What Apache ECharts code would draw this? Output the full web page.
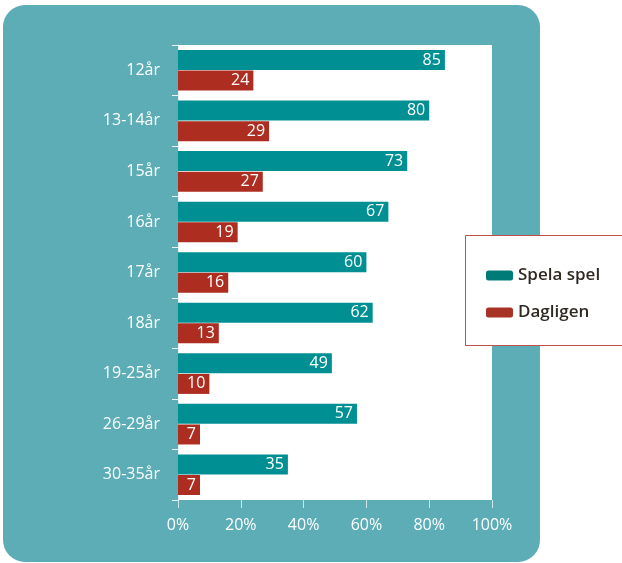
<!DOCTYPE html>
<html><head><meta charset="utf-8">
<script src="https://cdn.jsdelivr.net/npm/echarts@6/dist/echarts.min.js"></script>
<style>html,body{margin:0;padding:0;background:#fff}#c{width:622px;height:563px}</style>
</head><body><div id="c"></div>
<script>
const categories = ['12år','13-14år','15år','16år','17år','18år','19-25år','26-29år','30-35år'];
const spelaSpel = [85,80,73,67,60,62,49,57,35];
const dagligen = [24,29,27,19,16,13,10,7,7];
const seriesNames = ['Spela spel','Dagligen'];
const xTicks = [0,20,40,60,80,100];

const FONT = '"Open Sans", "Noto Sans", sans-serif';
const chart = echarts.init(document.getElementById('c'), null, {renderer:'canvas'});
chart.setOption({
  animation:false,
  backgroundColor:'#ffffff',
  graphic:[
    {type:'rect', z:-10, shape:{x:3,y:5,width:537,height:557,r:22}, style:{fill:'#5CADB5'}},
    {type:'rect', z:3, shape:{x:465.5,y:235.5,width:170,height:110}, style:{fill:'#ffffff',stroke:'#C0504D',lineWidth:1}}
  ],
  grid:{left:178,right:130,top:45,bottom:63,show:true,backgroundColor:'#ffffff',borderWidth:0,containLabel:false},
  legend:{
    z:5,
    orient:'vertical', left:481, top:262, itemWidth:27, itemHeight:10, itemGap:20, itemStyle:{borderWidth:0},
    textStyle:{fontFamily:FONT,fontSize:17,fontWeight:600,color:'#2e2a22'},
    data:[{name:seriesNames[0],itemStyle:{color:'#007B78'}},{name:seriesNames[1],itemStyle:{color:'#A93226'}}]
  },
  xAxis:{
    type:'value', min:0, max:100, interval:20,
    axisLine:{show:false},
    axisTick:{show:true,length:8,lineStyle:{color:'#cfe6e8'}},
    splitLine:{show:false},
    axisLabel:{formatter:v=>v+'%',color:'#ffffff',fontFamily:FONT,fontSize:16,margin:17,
      customValues:xTicks}
  },
  yAxis:{
    type:'category', data:categories, inverse:true,
    axisLine:{show:true,lineStyle:{color:'#e8f4f5',width:1}},
    axisTick:{show:true,length:6,lineStyle:{color:'#e8f4f5'}},
    axisLabel:{color:'#ffffff',fontFamily:FONT,fontSize:16,margin:18}
  },
  series:[
    {name:seriesNames[0],type:'bar',data:spelaSpel,barWidth:20,barGap:'3%',
     itemStyle:{color:'#009093'},
     label:{show:true,position:'insideRight',color:'#ffffff',fontFamily:FONT,fontSize:16,distance:4}},
    {name:seriesNames[1],type:'bar',data:dagligen,barWidth:20,
     itemStyle:{color:'#AD2E21'},
     label:{show:true,position:'insideRight',color:'#ffffff',fontFamily:FONT,fontSize:16,distance:4}}
  ]
});
</script></body></html>
